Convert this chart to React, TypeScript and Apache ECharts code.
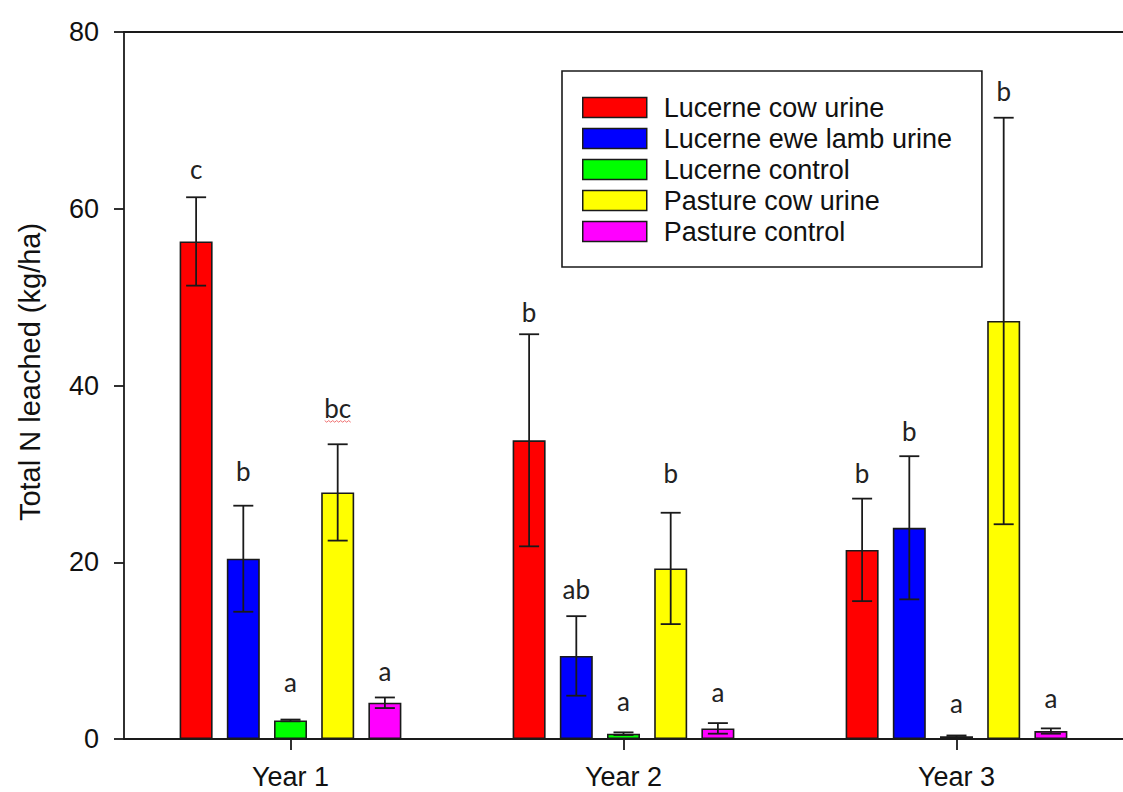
import React, { useEffect, useRef } from "react";
import * as echarts from "echarts";

const years = ["Year 1", "Year 2", "Year 3"];
const treatments = [
  "Lucerne cow urine",
  "Lucerne ewe lamb urine",
  "Lucerne control",
  "Pasture cow urine",
  "Pasture control",
];
const colors = ["#FF0000", "#0000FF", "#00FF00", "#FFFF00", "#FF00FF"];

const lucerneCow = [56.3, 33.8, 21.4];
const lucerneEwe = [20.4, 9.4, 23.9];
const lucerneControl = [2.1, 0.6, 0.3];
const pastureCow = [27.9, 19.3, 47.3];
const pastureControl = [4.1, 1.2, 0.9];

const lucerneCowSE = [5.0, 12.0, 5.8];
const lucerneEweSE = [6.0, 4.5, 8.1];
const lucerneControlSE = [0.1, 0.15, 0.1];
const pastureCowSE = [5.45, 6.3, 23.0];
const pastureControlSE = [0.6, 0.6, 0.3];

const lucerneCowLetters = ["c", "b", "b"];
const lucerneEweLetters = ["b", "ab", "b"];
const lucerneControlLetters = ["a", "a", "a"];
const pastureCowLetters = ["bc", "b", "b"];
const pastureControlLetters = ["a", "a", "a"];

// heights (axis units) where the significance letters sit
const lucerneCowLetterY = [64.5, 48.3, 30.1];
const lucerneEweLetterY = [30.3, 17.0, 34.9];
const lucerneControlLetterY = [6.4, 4.3, 4.1];
const pastureCowLetterY = [37.5, 30.1, 73.3];
const pastureControlLetterY = [7.7, 5.3, 4.6];

const yTicks = [0, 20, 40, 60, 80];

const means = [lucerneCow, lucerneEwe, lucerneControl, pastureCow, pastureControl];
const ses = [lucerneCowSE, lucerneEweSE, lucerneControlSE, pastureCowSE, pastureControlSE];
const letters = [
  lucerneCowLetters,
  lucerneEweLetters,
  lucerneControlLetters,
  pastureCowLetters,
  pastureControlLetters,
];
const letterYs = [
  lucerneCowLetterY,
  lucerneEweLetterY,
  lucerneControlLetterY,
  pastureCowLetterY,
  pastureControlLetterY,
];

const FONT = "'Liberation Sans', Arial, sans-serif";
const BAR_W = 33;
const BAR_GAP = 0.43;
const STEP = BAR_W * (1 + BAR_GAP);
const INK = "#1a1a1a";

export default function App() {
  const ref = useRef<HTMLDivElement>(null);

  useEffect(() => {
    if (!ref.current) return;
    const chart = echarts.init(ref.current, undefined, { renderer: "svg" });

    const barSeries = treatments.map((name, i) => ({
      name,
      type: "bar",
      data: means[i],
      barWidth: BAR_W,
      barGap: `${Math.round(BAR_GAP * 100)}%`,
      itemStyle: { color: colors[i], borderColor: INK, borderWidth: 1.6 },
      z: 2,
    }));

    const errSeries = treatments.map((name, i) => ({
      name: name + " SE",
      type: "custom",
      z: 5,
      data: means[i].map((m, j) => [j, Math.max(0, m - ses[i][j]), m + ses[i][j]]),
      renderItem: (params: any, api: any) => {
        const cat = api.value(0);
        const x = api.coord([cat, 0])[0] + (i - 2) * STEP;
        const yl = api.coord([cat, api.value(1)])[1];
        const yh = api.coord([cat, api.value(2)])[1];
        const half = 10;
        const style = { stroke: INK, lineWidth: 1.8 };
        return {
          type: "group",
          children: [
            { type: "line", shape: { x1: x, y1: yl, x2: x, y2: yh }, style },
            { type: "line", shape: { x1: x - half, y1: yh, x2: x + half, y2: yh }, style },
            { type: "line", shape: { x1: x - half, y1: yl, x2: x + half, y2: yl }, style },
          ],
        };
      },
    }));

    const letterSeries = treatments.map((name, i) => ({
      name: name + " letters",
      type: "custom",
      z: 6,
      data: letterYs[i].map((v, j) => [j, v]),
      renderItem: (params: any, api: any) => {
        const cat = api.value(0);
        const p = api.coord([cat, api.value(1)]);
        const x = p[0] + (i - 2) * STEP;
        const txt = letters[i][params.dataIndex];
        const children: any[] = [
          {
            type: "text",
            x,
            y: p[1],
            style: {
              text: txt,
              fill: "#222",
              font: "26px Lato, 'Open Sans', sans-serif",
              align: "center",
              verticalAlign: "middle",
            },
          },
        ];
        if (txt === "bc") {
          const pts: number[][] = [];
          for (let k = 0; k <= 13; k++) {
            pts.push([x - 13 + k * 2, p[1] + 13 + (k % 2 === 0 ? 0 : 1.6)]);
          }
          children.push({
            type: "polyline",
            shape: { points: pts },
            style: { stroke: "#f07070", lineWidth: 1, fill: "none" },
          });
        }
        return { type: "group", children };
      },
    }));

    chart.setOption({
      animation: false,
      backgroundColor: "#ffffff",
      textStyle: { fontFamily: FONT },
      grid: { left: 124, top: 32, width: 1010, height: 707, containLabel: false },
      legend: {
        data: treatments,
        orient: "vertical",
        left: 562,
        top: 71,
        padding: [23, 30, 22, 20],
        itemWidth: 64,
        itemHeight: 20,
        itemGap: 4,
        icon: "rect",
        backgroundColor: "#ffffff",
        borderColor: INK,
        borderWidth: 1.6,
        selectedMode: false,
        itemStyle: { borderColor: INK, borderWidth: 1.5 },
        textStyle: {
          fontFamily: FONT,
          fontSize: 27,
          color: "#111",
          padding: [0, 0, 0, 12],
        },
      },
      xAxis: [
        {
          type: "category",
          data: years,
          position: "bottom",
          axisLine: { show: true, lineStyle: { color: INK, width: 1.8 } },
          axisTick: { show: true, alignWithLabel: true, length: 11, lineStyle: { color: INK, width: 1.8 } },
          axisLabel: { fontFamily: FONT, fontSize: 27, color: "#111", margin: 24 },
          splitLine: { show: false },
        },
        {
          type: "category",
          data: years,
          position: "top",
          axisLine: { show: true, lineStyle: { color: INK, width: 1.8 } },
          axisTick: { show: false },
          axisLabel: { show: false },
          splitLine: { show: false },
        },
      ],
      yAxis: {
        type: "value",
        min: yTicks[0],
        max: yTicks[yTicks.length - 1],
        interval: yTicks[1] - yTicks[0],
        axisLine: { show: true, lineStyle: { color: INK, width: 1.8 } },
        axisTick: { show: true, inside: false, length: 10, lineStyle: { color: INK, width: 1.8 } },
        axisLabel: { fontFamily: FONT, fontSize: 27, color: "#111", margin: 25 },
        splitLine: { show: false },
      },
      graphic: [
        {
          type: "text",
          x: 30,
          y: 372,
          rotation: Math.PI / 2,
          style: {
            text: "Total N leached (kg/ha)",
            font: `29px ${FONT}`,
            fill: "#111",
            align: "center",
            verticalAlign: "middle",
          },
        },
      ],
      series: [...barSeries, ...errSeries, ...letterSeries],
    });

    return () => chart.dispose();
  }, []);

  return (
    <div
      ref={ref}
      style={{ position: "fixed", left: 0, top: 0, width: 1123, height: 792 }}
    />
  );
}
